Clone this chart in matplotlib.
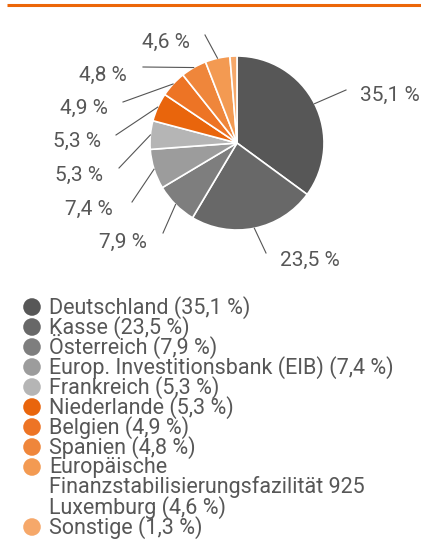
import matplotlib
matplotlib.use("Agg")
import matplotlib.pyplot as plt
import numpy as np

# Anteile in Prozent
names = ["Deutschland", "Kasse", "Österreich", "Europ. Investitionsbank (EIB)",
         "Frankreich", "Niederlande", "Belgien", "Spanien",
         "Europäische\nFinanzstabilisierungsfazilität 925\nLuxemburg", "Sonstige"]
shares = [35.1, 23.5, 7.9, 7.4, 5.3, 5.3, 4.9, 4.8, 4.6, 1.3]
colors = ["#575757", "#686868", "#7e7e7e", "#9c9c9c", "#b5b5b5",
          "#e9650c", "#ed7425", "#ef863b", "#f39a52", "#f6a86a"]

def fmt(v):
    return f"{v:.1f}".replace(".", ",") + " %"

plt.rcParams["font.family"] = ["Roboto", "DejaVu Sans"]
txt_color = "#575757"

W, H = 421, 540
fig = plt.figure(figsize=(W / 100, H / 100), dpi=100)
ax = fig.add_axes([0, 0, 1, 1])
ax.set_xlim(0, W)
ax.set_ylim(0, H)
ax.axis("off")

# Orange Linie oben
ax.plot([7, W], [H - 5, H - 5], color="#ec6608", lw=2.2, solid_capstyle="butt")

# Torte
cx, cy, r = 237, H - 143, 87
wedges, _ = ax.pie(shares, colors=colors, startangle=90, counterclock=False,
                   center=(cx, cy), radius=r,
                   wedgeprops=dict(edgecolor="white", linewidth=1.2))
ax.set_xlim(0, W)
ax.set_ylim(0, H)
ax.set_aspect("auto")

# Beschriftungen: Linienende und Textposition (Pixel, y von oben)
line_ends = [(346, 90), (266, 253), (163, 233), (132, 202), (119, 168),
             (116, 135), (123, 102), (143, 67), (205, 35), None]
text_pos = [(360, 93, "left"), (280, 258, "left"), (147, 240, "right"),
            (113, 207, "right"), (103, 173, "right"), (101, 139, "right"),
            (108, 106, "right"), (127, 73, "right"), (190, 40, "right"), None]

for w, v, le, tp in zip(wedges, shares, line_ends, text_pos):
    if le is None:
        continue
    a = np.deg2rad((w.theta1 + w.theta2) / 2)
    x0, y0 = cx + r * np.cos(a), cy + r * np.sin(a)
    ax.plot([x0, le[0]], [y0, H - le[1]], color="#555555", lw=0.8)
    ax.text(tp[0], H - tp[1], fmt(v), ha=tp[2], va="center_baseline",
            fontsize=15, color=txt_color)

# Legende
row_h = 20
y = 307
for n, v, c in zip(names, shares, colors):
    lines = (n + f" ({fmt(v)})").split("\n")
    ax.scatter(32, H - y, s=160, color=c, edgecolors="none")
    for ln in lines:
        ax.text(49, H - y - 6.5, ln, ha="left", va="baseline", fontsize=15.5,
                color=txt_color)
        y += row_h

fig.savefig("out.png", dpi=100)
